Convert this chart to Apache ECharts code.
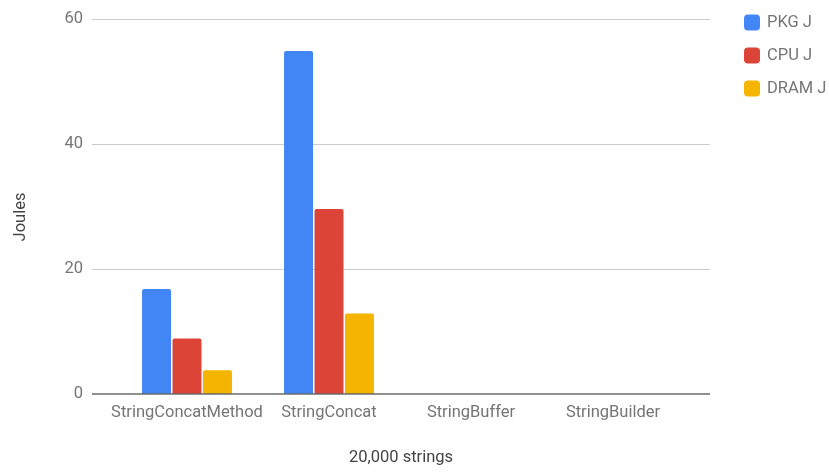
<!DOCTYPE html>
<html>
<head>
<meta charset="utf-8">
<script src="https://cdn.jsdelivr.net/npm/echarts@6/dist/echarts.min.js"></script>
<style>
  html, body { margin: 0; padding: 0; background: #fff; }
  #chart { width: 829px; height: 473px; }
</style>
</head>
<body>
<div id="chart"></div>
<script>
// Energy use per string-building approach (20,000 strings)
const categories = ['StringConcatMethod', 'StringConcat', 'StringBuffer', 'StringBuilder'];
const pkgJoules  = [16.8, 54.9, 0, 0];
const cpuJoules  = [8.9, 29.6, 0, 0];
const dramJoules = [3.8, 12.9, 0, 0];
const yTicks = [0, 20, 40, 60];

const seriesNames = ['PKG J', 'CPU J', 'DRAM J'];
const colors = ['#4285F4', '#DB4437', '#F4B400'];
const font = 'Roboto, "Noto Sans", sans-serif';

const chart = echarts.init(document.getElementById('chart'), null, { renderer: 'canvas' });

const barStyle = (c) => ({ color: c, borderRadius: [2, 2, 0, 0] });

chart.setOption({
  animation: false,
  color: colors,
  textStyle: { fontFamily: font },
  grid: [
    // frame grid: value scale, gridlines and baseline
    { left: 92, right: 119, top: 19, bottom: 79 },
    // bar grid: categories are inset from the frame
    { left: 116, right: 145, top: 19, bottom: 79 }
  ],
  xAxis: [
    {
      gridIndex: 0, type: 'value', min: 0, max: 1,
      axisLine: { show: false }, axisTick: { show: false },
      axisLabel: { show: false }, splitLine: { show: false }
    },
    {
      gridIndex: 1, type: 'category', data: categories,
      axisLine: { show: false }, axisTick: { show: false },
      axisLabel: { color: '#757575', fontSize: 16.5, margin: 10, interval: 0, fontFamily: font }
    }
  ],
  yAxis: [
    {
      gridIndex: 0, type: 'value', min: yTicks[0], max: yTicks[yTicks.length - 1], interval: 20,
      axisLine: { show: false }, axisTick: { show: false },
      axisLabel: { color: '#757575', fontSize: 16.5, margin: 9, fontFamily: font },
      splitLine: { lineStyle: { color: '#cccccc', width: 1 } }
    },
    {
      gridIndex: 1, type: 'value', min: yTicks[0], max: yTicks[yTicks.length - 1], interval: 20,
      show: false, splitLine: { show: false }
    }
  ],
  legend: {
    orient: 'vertical', left: 739, top: 9,
    itemWidth: 16, itemHeight: 16, itemGap: 16,
    icon: 'roundRect',
    textStyle: { color: '#757575', fontSize: 16.5, fontFamily: font, padding: [0, 0, 0, 2] },
    data: seriesNames
  },
  graphic: [
    {
      type: 'text', x: 401, y: 458,
      style: { text: '20,000 strings', fill: '#444', fontSize: 16.5, fontFamily: font, align: 'center', verticalAlign: 'middle' }
    },
    {
      type: 'text', x: 21, y: 217, rotation: Math.PI / 2,
      style: { text: 'Joules', fill: '#444', fontSize: 16.5, fontFamily: font, align: 'center', verticalAlign: 'middle' }
    }
  ],
  series: [
    {
      name: seriesNames[0], type: 'bar', xAxisIndex: 1, yAxisIndex: 1,
      data: pkgJoules, barWidth: 29, barGap: '5%', itemStyle: barStyle(colors[0])
    },
    {
      name: seriesNames[1], type: 'bar', xAxisIndex: 1, yAxisIndex: 1,
      data: cpuJoules, barWidth: 29, barGap: '5%', itemStyle: barStyle(colors[1])
    },
    {
      name: seriesNames[2], type: 'bar', xAxisIndex: 1, yAxisIndex: 1,
      data: dramJoules, barWidth: 29, barGap: '5%', itemStyle: barStyle(colors[2])
    },
    {
      // grey baseline along the zero value
      type: 'line', xAxisIndex: 0, yAxisIndex: 0, silent: true, symbol: 'none',
      data: [[0, 0], [1, 0]], lineStyle: { color: '#666', width: 1.5 }, z: 5
    }
  ]
});
</script>
</body>
</html>
